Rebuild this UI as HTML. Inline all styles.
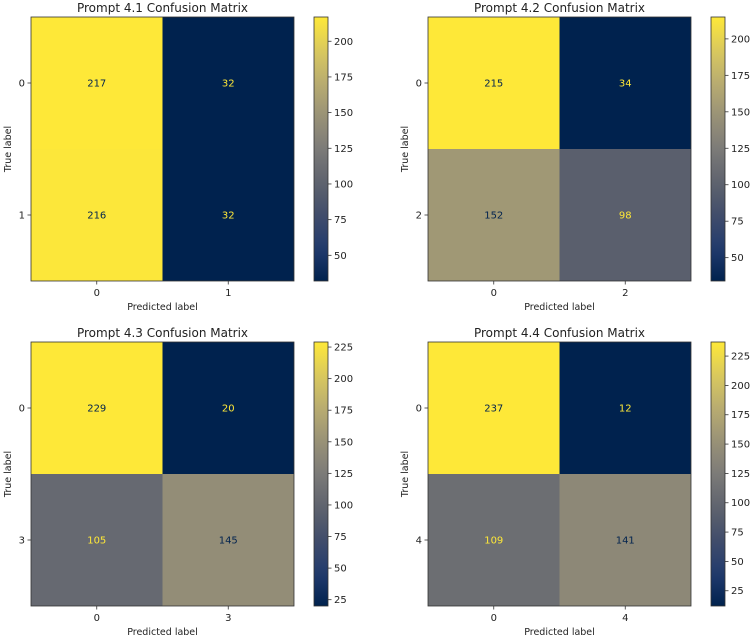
<!DOCTYPE html>
<html><head><meta charset="utf-8"><style>
html,body{margin:0;padding:0;background:#fff;}
svg{display:block;font-family:"DejaVu Sans","Liberation Sans",sans-serif;}
</style></head><body>
<svg id="fig" width="753" height="639" viewBox="0 0 753 639" xmlns="http://www.w3.org/2000/svg"></svg>
<script>
const titles = ["Prompt 4.1 Confusion Matrix","Prompt 4.2 Confusion Matrix","Prompt 4.3 Confusion Matrix","Prompt 4.4 Confusion Matrix"];
const classLabels = [["0","1"],["0","2"],["0","3"],["0","4"]];
const matrix41 = [[217,32],[216,32]];
const matrix42 = [[215,34],[152,98]];
const matrix43 = [[229,20],[105,145]];
const matrix44 = [[237,12],[109,141]];
const matrices = [matrix41, matrix42, matrix43, matrix44];
const cbTicks41 = [50,75,100,125,150,175,200];
const cbTicks42 = [50,75,100,125,150,175,200];
const cbTicks43 = [25,50,75,100,125,150,175,200,225];
const cbTicks44 = [25,50,75,100,125,150,175,200,225];
const cbTicks = [cbTicks41, cbTicks42, cbTicks43, cbTicks44];

const panelX = [31,428,31,428], panelY = [17,17,342,342];
const W = 263, H = 264;
const NS = "http://www.w3.org/2000/svg";
const svg = document.getElementById('fig');
const stops = [[0,[0,34,78]],[0.125,[34,59,110]],[0.25,[65,77,107]],[0.375,[95,99,110]],[0.5,[124,123,120]],[0.625,[153,146,119]],[0.75,[185,172,112]],[0.875,[218,201,94]],[1,[254,232,56]]];
function cividis(t){t=Math.max(0,Math.min(1,t));for(let i=1;i<stops.length;i++){if(t<=stops[i][0]){const a=stops[i-1],b=stops[i];const f=(t-a[0])/(b[0]-a[0]);const c=a[1].map((v,k)=>Math.round(v+(b[1][k]-v)*f));return `rgb(${c[0]},${c[1]},${c[2]})`;}}return 'rgb(254,232,56)';}
function el(tag, attrs, parent){const e=document.createElementNS(NS,tag);for(const k in attrs)e.setAttribute(k,attrs[k]);(parent||svg).appendChild(e);return e;}

matrices.forEach((m,p)=>{
  const g = el('g',{});
  
  
  const x0=panelX[p], y0=panelY[p];
  const flat=m.flat(); const mn=Math.min(...flat), mx=Math.max(...flat);
  const n=m.length, cw=W/n, ch=H/n;
  const xs=j=>x0+j*cw, ys=i=>y0+i*ch, norm=v=>(v-mn)/(mx-mn);
  const t=el('text',{x:x0+W/2,y:y0-5,'text-anchor':'middle','font-size':12,fill:'#222'},g);
  t.textContent=titles[p];
  
  
  m.forEach((row,i)=>row.forEach((v,j)=>{
    const r=el('rect',{x:xs(j),y:ys(i),width:cw,height:ch,fill:cividis(norm(v))},g);
    
    
    const tx=el('text',{x:xs(j)+cw/2,y:ys(i)+ch/2+3.5,'text-anchor':'middle','font-size':10,fill: v<(mn+mx)/2?cividis(1):cividis(0)},g);
    tx.textContent=v;
    
    
  }));
  el('rect',{x:x0,y:y0,width:W,height:H,fill:'none',stroke:'#333','stroke-width':0.8},g);
  classLabels[p].forEach((lab,k)=>{
    const cx=xs(k)+cw/2;
    el('line',{x1:cx,x2:cx,y1:y0+H,y2:y0+H+3.5,stroke:'#333','stroke-width':0.8},g);
    const a=el('text',{x:cx,y:y0+H+15,'text-anchor':'middle','font-size':10,fill:'#222'},g);
    a.textContent=lab;
    
    
    const cy=ys(k)+ch/2;
    el('line',{x1:x0-3.5,x2:x0,y1:cy,y2:cy,stroke:'#333','stroke-width':0.8},g);
    const b=el('text',{x:x0-6,y:cy+3.5,'text-anchor':'end','font-size':10,fill:'#222'},g);
    b.textContent=lab;
    
    
  });
  const xl=el('text',{x:x0+W/2,y:y0+H+29,'text-anchor':'middle','font-size':9.5,fill:'#222'},g);
  xl.textContent='Predicted label';
  
  
  const yl=el('text',{x:0,y:0,'text-anchor':'middle','font-size':9.5,fill:'#222',transform:`translate(${x0-20},${y0+H/2}) rotate(-90)`},g);
  yl.textContent='True label';
  
  
  const cbx=x0+283, cbw=14;
  const cby=v=>y0+H-(v-mn)/(mx-mn)*H;
  const defs=el('defs',{},g);
  const gid='grad'+p;
  const lg=el('linearGradient',{id:gid,x1:0,y1:1,x2:0,y2:0},defs);
  for(let s=0;s<=20;s++)el('stop',{offset:s/20,'stop-color':cividis(s/20)},lg);
  const cb=el('rect',{x:cbx,y:y0,width:cbw,height:H,fill:`url(#${gid})`,stroke:'#333','stroke-width':0.8},g);
  
  
  cbTicks[p].forEach(v=>{
    const y=cby(v);
    el('line',{x1:cbx+cbw,x2:cbx+cbw+3.5,y1:y,y2:y,stroke:'#333','stroke-width':0.8},g);
    const tt=el('text',{x:cbx+cbw+6,y:y+3.5,'font-size':10,fill:'#222'},g);
    tt.textContent=v;
    
    
  });
});
</script>
</body></html>
